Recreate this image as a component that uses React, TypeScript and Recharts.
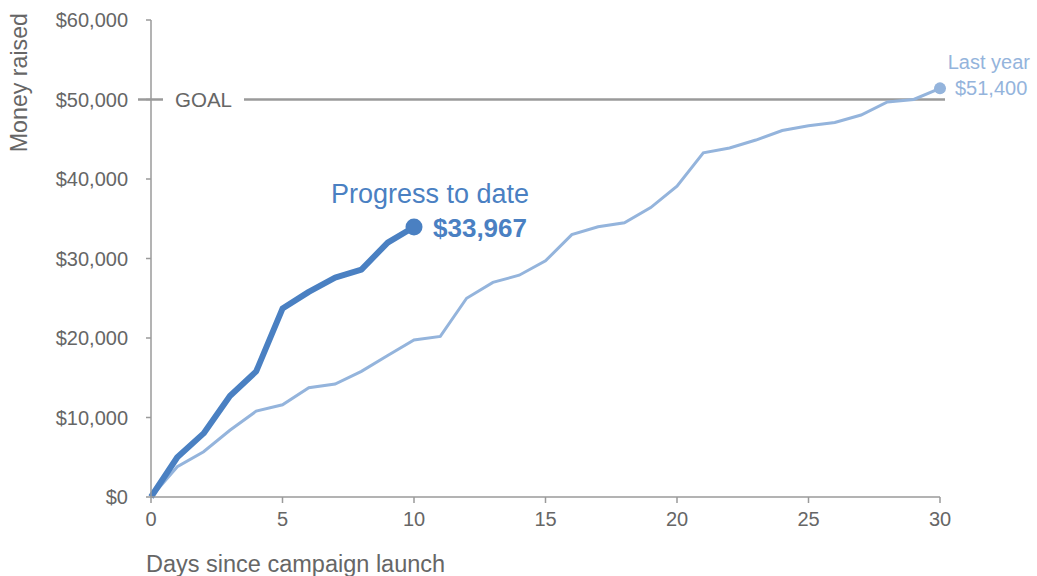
import React from 'react'
import { Line, LineChart, ReferenceLine, XAxis, YAxis } from 'recharts'

const days = [0, 1, 2, 3, 4, 5, 6, 7, 8, 9, 10, 11, 12, 13, 14, 15, 16, 17, 18, 19, 20, 21, 22, 23, 24, 25, 26, 27, 28, 29, 30]
const progress = [0, 5000, 8000, 12700, 15800, 23700, 25800, 27600, 28600, 32000, 33967]
const lastYear = [
  0, 3800, 5700, 8400, 10800, 11600, 13750, 14200, 15800, 17800, 19750, 20200, 25000, 27000, 27900, 29700,
  33000, 34000, 34500, 36400, 39100, 43300, 43900, 44900, 46100, 46700, 47100, 48050, 49700, 50000, 51400,
]
const yTicks = [0, 10000, 20000, 30000, 40000, 50000, 60000]
const xTicks = [0, 5, 10, 15, 20, 25, 30]
const goal = 50000

const chartData = days.map((d, i) => ({
  day: d,
  progress: i < progress.length ? progress[i] : null,
  lastYear: lastYear[i],
}))

const FONT = '"Liberation Sans", Arial, Helvetica, sans-serif'
const DARK = '#4a80c2'
const LIGHT = '#94b4dc'
const AXIS = '#9a9a9a'
const TEXT = '#666666'

const money = (v: number) => '$' + v.toLocaleString('en-US')

const ProgressDot = (props: any) => {
  const { cx, cy, index } = props
  if (index !== progress.length - 1) return <g key={'p' + index} />
  return (
    <g key={'p' + index}>
      <circle cx={cx} cy={cy} r={8.5} fill={DARK} />
      <text x={cx + 16} y={cy - 33} textAnchor="middle" dominantBaseline="central" fill={DARK} fontSize={27} fontFamily={FONT}>
        Progress to date
      </text>
      <text x={cx + 19} y={cy + 1} dominantBaseline="central" fill={DARK} fontSize={26} fontWeight="bold" fontFamily={FONT}>
        {money(progress[progress.length - 1])}
      </text>
    </g>
  )
}

const LastYearDot = (props: any) => {
  const { cx, cy, index } = props
  if (index !== lastYear.length - 1) return <g key={'l' + index} />
  return (
    <g key={'l' + index}>
      <circle cx={cx} cy={cy} r={6} fill={LIGHT} />
      <text x={cx + 90} y={cy - 26} textAnchor="end" dominantBaseline="central" fill={LIGHT} fontSize={20} fontFamily={FONT}>
        Last year
      </text>
      <text x={cx + 15} y={cy} dominantBaseline="central" fill={LIGHT} fontSize={20} fontFamily={FONT}>
        {money(lastYear[lastYear.length - 1])}
      </text>
    </g>
  )
}

const GoalLine = (props: any) => {
  const { x1, x2, y1 } = props
  return (
    <g>
      <line x1={x1 - 13} x2={x1 + 12} y1={y1} y2={y1} stroke={AXIS} strokeWidth={2.5} />
      <text x={x1 + 24} y={y1} dominantBaseline="central" fill={TEXT} fontSize={20.5} fontFamily={FONT}>
        GOAL
      </text>
      <line x1={x1 + 93} x2={x2 + 5} y1={y1} y2={y1} stroke={AXIS} strokeWidth={2.5} />
    </g>
  )
}

const App = () => {
  return (
    <div style={{ position: 'absolute', left: 0, top: 0, width: 1037, height: 576, background: '#fff' }}>
      <LineChart width={1037} height={576} data={chartData} margin={{ top: 20, right: 97, bottom: 0, left: 0 }}>
        <XAxis
          dataKey="day"
          type="number"
          domain={[0, 30]}
          ticks={xTicks}
          height={79}
          tickSize={6}
          tickMargin={9}
          stroke={AXIS}
          strokeWidth={1.5}
          tick={{ fill: TEXT, fontSize: 20, fontFamily: FONT }}
          label={(p: any) => (
            <text x={p.viewBox.x - 5} y={p.viewBox.y + 67} dominantBaseline="central" fill={TEXT} fontSize={23.5} fontFamily={FONT}>
              Days since campaign launch
            </text>
          )}
        />
        <YAxis
          domain={[0, 60000]}
          ticks={yTicks}
          width={151}
          tickSize={5}
          tickMargin={18}
          stroke={AXIS}
          strokeWidth={1.5}
          tickFormatter={money}
          tick={{ fill: TEXT, fontSize: 20, fontFamily: FONT }}
          label={() => (
            <text x={19} y={13} transform="rotate(-90 19 13)" textAnchor="end" dominantBaseline="central" fill={TEXT} fontSize={23.2} fontFamily={FONT}>
              Money raised
            </text>
          )}
        />
        <ReferenceLine y={goal} shape={GoalLine} />
        <Line
          type="linear"
          dataKey="lastYear"
          stroke={LIGHT}
          strokeWidth={3}
          dot={LastYearDot}
          activeDot={false}
          isAnimationActive={false}
        />
        <Line
          type="linear"
          dataKey="progress"
          stroke={DARK}
          strokeWidth={6}
          strokeLinejoin="round"
          dot={ProgressDot}
          activeDot={false}
          connectNulls={false}
          isAnimationActive={false}
        />
      </LineChart>
    </div>
  )
}

export default App
